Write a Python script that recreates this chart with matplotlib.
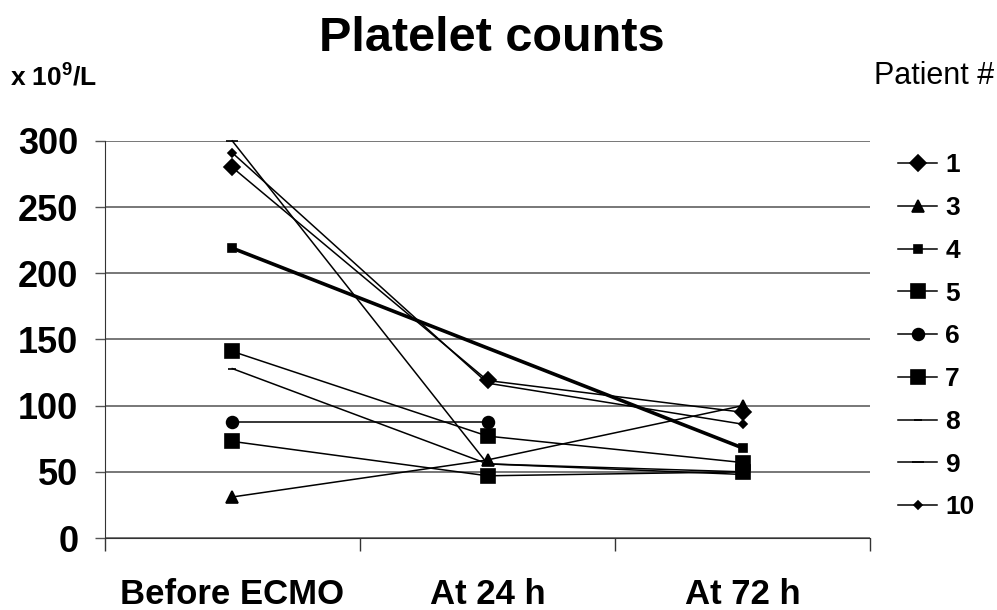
import numpy as np
import matplotlib
matplotlib.use("Agg")
import matplotlib.pyplot as plt

plt.rcParams['font.family'] = ['Liberation Sans', 'DejaVu Sans']
plt.rcParams['mathtext.fontset'] = 'custom'
plt.rcParams['mathtext.bf'] = 'Liberation Sans:bold'
plt.rcParams['mathtext.rm'] = 'Liberation Sans:bold'

# time points
categories = ["Before ECMO", "At 24 h", "At 72 h"]

# platelet counts per patient (x 10^9/L), nan = no value
patients = ["1", "3", "4", "5", "6", "7", "8", "9", "10"]
p1 = [280, 119, 95]
p3 = [31, 59, 100]
p4 = [219, np.nan, 68]
p5 = [141, 77, 57]
p6 = [88, 88, np.nan]
p7 = [73, 47, 50]
p8 = [128, 56, 48]
p9 = [300, 56, 50]
p10 = [291, 117, 86]
series = [p1, p3, p4, p5, p6, p7, p8, p9, p10]

# marker style per patient
markers = ['D', '^', 's', 's', 'o', 's', '_', '_', 'D']
msizes = [8, 9, 5.5, 9.5, 8.5, 9.5, 6, 8, 4.5]
lwidths = [1.1, 1.1, 2.6, 1.1, 1.1, 1.1, 1.1, 1.1, 1.1]

fig = plt.figure(figsize=(9.97, 6.10), dpi=100)
ax = fig.add_axes([0.105, 0.118, 0.768, 0.651])

x = np.arange(len(categories)) + 0.5
for name, vals, m, ms, lw in zip(patients, series, markers, msizes, lwidths):
    v = np.array(vals, dtype=float)
    ok = ~np.isnan(v)
    ax.plot(x[ok], v[ok], color='black', lw=lw, marker=m, markersize=ms,
            markeredgewidth=1.2, label=name, clip_on=False, zorder=3)

ax.set_xlim(0, 3)
ax.set_ylim(0, 300)
ax.set_yticks(range(0, 301, 50))
ax.set_yticklabels([str(v) for v in range(0, 301, 50)], fontsize=26, fontweight='bold')
ax.set_xticks([0, 1, 2, 3])
ax.set_xticklabels([])
ax.set_xticks(x, minor=True)
ax.set_xticklabels(categories, minor=True, fontsize=25, fontweight='bold')
ax.tick_params(axis='x', which='major', length=9, width=1, color='#333333')
ax.tick_params(axis='x', which='minor', length=0, pad=29)
ax.tick_params(axis='y', length=7, width=1, pad=12, color='#555555')

ax.grid(axis='y', color='#777777', lw=1.4, zorder=0)
for s in ['top', 'right']:
    ax.spines[s].set_visible(False)
ax.spines['left'].set_color('#333333')
ax.spines['bottom'].set_color('#333333')

fig.text(0.493, 0.937, "Platelet counts", ha='center', va='center',
         fontsize=35, fontweight='bold')
fig.text(0.01, 0.875, r"x 10$^{\mathbf{9}}$/L", ha='left', va='center',
         fontsize=19, fontweight='bold')
fig.text(0.997, 0.875, "Patient #", ha='right', va='center', fontsize=22)

leg = ax.legend(loc='upper left', bbox_to_anchor=(1.022, 0.995), frameon=False,
                handlelength=1.5, handletextpad=0.3, labelspacing=0.71,
                prop={'size': 19, 'weight': 'bold'}, borderaxespad=0)
for h in leg.legend_handles:
    h.set_linewidth(1.1)

fig.savefig("out.png", dpi=100)
